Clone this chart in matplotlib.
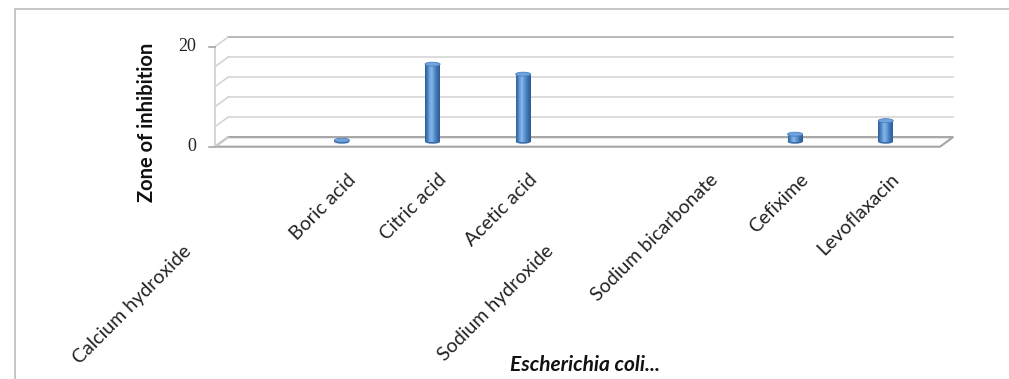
import numpy as np
import matplotlib
matplotlib.use("Agg")
import matplotlib.pyplot as plt
from matplotlib import transforms
from matplotlib.patches import Rectangle, Ellipse, Polygon
from matplotlib.lines import Line2D
from matplotlib.colors import LinearSegmentedColormap

# ---- data -------------------------------------------------------------
categories = ["Calcium hydroxide", "Boric acid", "Citric acid", "Acetic acid",
              "Sodium hydroxide", "Sodium bicarbonate", "Cefixime", "Levoflaxacin"]
zone_of_inhibition = [0, 0.3, 15.5, 13.5, 0, 0, 1.5, 4.2]
y_ticks = [0, 20]
grid_values = [0, 4, 8, 12, 16, 20]
dropped_labels = {"Calcium hydroxide", "Sodium hydroxide"}

# ---- figure -----------------------------------------------------------
W, H, DPI = 1009, 379, 100
fig = plt.figure(figsize=(W / DPI, H / DPI), dpi=DPI)
fig.patch.set_facecolor("white")

# front plane of the 3-D box, in pixels
left_px, right_px, base_px, top_px = 215, 940, 146.7, 46.7
ax = fig.add_axes([left_px / W, (H - base_px) / H,
                   (right_px - left_px) / W, (base_px - top_px) / H])
ax.set_xlim(-0.5, len(categories) - 0.5)
ax.set_ylim(0, 20)
ax.axis("off")
fig.canvas.draw()

depth = np.array([13.0, 9.5])      # back-wall offset in pixels
bar_shift = (-9.0, 5.0)            # bars sit mid-way into the box

grid_col = "#d2d2d2"
edge_col = "#a6a6a6"
pix = transforms.IdentityTransform()

def shifted(dx, dy):
    return transforms.offset_copy(ax.transData, fig=fig, x=dx, y=dy, units="dots")

back = shifted(*depth)
xmin, xmax = ax.get_xlim()

# floor
f0 = ax.transData.transform((xmin, 0))
f1 = ax.transData.transform((xmax, 0))
ax.add_artist(Polygon([f0, f1, f1 + depth, f0 + depth], closed=True,
                      transform=pix, facecolor="white", edgecolor=edge_col,
                      linewidth=1.5, zorder=1, clip_on=False))

# back wall gridlines and side wall connectors
for g in grid_values:
    col = edge_col if g in (0, 20) else grid_col
    ax.add_line(Line2D([xmin, xmax], [g, g], transform=back, color=col,
                       linewidth=1.1, zorder=1.5, clip_on=False))
    p = ax.transData.transform((xmin, g))
    ax.add_line(Line2D([p[0], p[0] + depth[0]], [p[1], p[1] + depth[1]],
                       transform=pix, color=grid_col, linewidth=1.1,
                       zorder=1.5, clip_on=False))

# front value axis with its ticks
ax.add_line(Line2D([xmin, xmin], [0, 20], color=grid_col, linewidth=1.3,
                   clip_on=False, zorder=2))
for t in y_ticks:
    p = ax.transData.transform((xmin, t))
    ax.add_line(Line2D([p[0] - 6, p[0]], [p[1], p[1]], transform=pix,
                       color=edge_col, linewidth=1.2, clip_on=False, zorder=2))
    ax.text(xmin, t, str(t), transform=shifted(-19, 0), ha="right", va="center",
            fontsize=13, family="Liberation Serif", color="#222222")

# cylinders
cyl = LinearSegmentedColormap.from_list(
    "cyl", ["#2c5a93", "#4f88c8", "#86b9ea", "#5f97d2", "#3c70ae", "#2e5d98"])
bar_w = 0.166
ell_h = 0.8
n_strips = 24
bar_tr = shifted(*bar_shift)
for i, v in enumerate(zone_of_inhibition):
    if v <= 0:
        continue
    x0 = i - bar_w / 2
    ax.add_patch(Ellipse((i, 0), bar_w, ell_h, transform=bar_tr,
                         facecolor="#3a6aa6", edgecolor="none", zorder=3, clip_on=False))
    sw = bar_w / n_strips
    for k in range(n_strips):
        ax.add_patch(Rectangle((x0 + k * sw, 0), sw * 1.05, v, transform=bar_tr,
                               facecolor=cyl((k + 0.5) / n_strips), edgecolor="none",
                               zorder=3.1, clip_on=False))
    ax.add_patch(Ellipse((i, v), bar_w, ell_h, transform=bar_tr,
                         facecolor="#6fa4dc", edgecolor="#4a80c0", linewidth=0.6,
                         zorder=3.2, clip_on=False))

# category labels, rotated at 45 degrees
lab_tr = transforms.blended_transform_factory(ax.transData, ax.transAxes)
for i, name in enumerate(categories):
    dx, dy = -4, -24
    if name in dropped_labels:
        dx, dy = dx - 74, dy - 72
    ax.text(i, 0, name, transform=transforms.offset_copy(lab_tr, fig=fig, x=dx, y=dy, units="dots"),
            rotation=45, rotation_mode="anchor", ha="right", va="top",
            fontsize=14, family="Lato", color="#222222")

# axis titles
fig.text(147 / W, 1 - 122 / H, "Zone of inhibition", rotation=90, ha="center",
         va="center", fontsize=14.5, fontweight="bold", family="Lato", color="#111111")
fig.text(585 / W, 1 - 365 / H, "Escherichia coli...", ha="center", va="center",
         fontsize=15, fontweight="bold", fontstyle="italic", family="Lato",
         color="#111111")

# chart area border
fig.add_artist(Rectangle((15 / W, -0.2), 1.2, 1 - 9 / H + 0.2, transform=fig.transFigure,
                         facecolor="none", edgecolor="#bdbdbd", linewidth=1.2))

fig.savefig("out.png", dpi=DPI, facecolor="white")
